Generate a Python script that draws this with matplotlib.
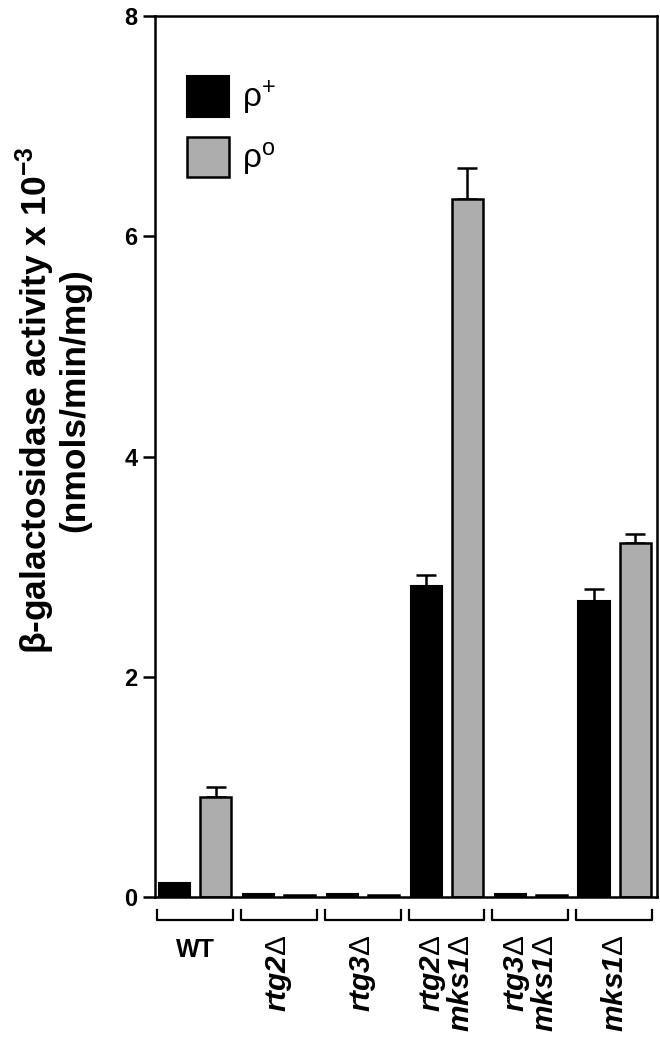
import numpy as np
import matplotlib
matplotlib.use('Agg')
import matplotlib.pyplot as plt
import matplotlib.transforms as mtransforms

plt.rcParams['font.family'] = ['Liberation Sans', 'DejaVu Sans']
plt.rcParams['mathtext.fontset'] = 'custom'
plt.rcParams['mathtext.rm'] = 'Liberation Sans'
plt.rcParams['mathtext.it'] = 'Liberation Sans:italic:bold'
plt.rcParams['mathtext.bf'] = 'Liberation Sans:bold'

## data
strains = ['WT', 'rtg2', 'rtg3', 'rtg2 mks1', 'rtg3 mks1', 'mks1']
rho_plus = [0.13, 0.025, 0.025, 2.82, 0.025, 2.69]
rho_plus_err = [0.0, 0.0, 0.0, 0.10, 0.0, 0.11]
rho_zero = [0.91, 0.015, 0.015, 6.34, 0.015, 3.21]
rho_zero_err = [0.09, 0.0, 0.0, 0.28, 0.0, 0.09]
yticks = [0, 2, 4, 6, 8]

fig = plt.figure(figsize=(6.6, 10.49), dpi=100)
ax = fig.add_axes([155/660, 1-897/1049, (657-155)/660, (897-16)/1049])

x = np.arange(len(strains))
w = 0.37
off = 0.245
ax.bar(x - off, rho_plus, w, color='black', edgecolor='black', linewidth=1.5,
       label=r'ρ$^{+}$', zorder=2)
ax.bar(x + off, rho_zero, w, color='#adadad', edgecolor='black', linewidth=1.8,
       label=r'ρ$^{\mathrm{o}}$', zorder=2)

ep = np.array(rho_plus_err)
ez = np.array(rho_zero_err)
mp = ep > 0
mz = ez > 0
ax.errorbar((x - off)[mp], np.array(rho_plus)[mp], yerr=[np.zeros(mp.sum()), ep[mp]],
            fmt='none', ecolor='black', elinewidth=1.8, capsize=7.5, capthick=1.8, zorder=1)
ax.errorbar((x + off)[mz], np.array(rho_zero)[mz], yerr=[np.zeros(mz.sum()), ez[mz]],
            fmt='none', ecolor='black', elinewidth=1.8, capsize=7.5, capthick=1.8, zorder=1)

ax.set_xlim(-0.477, 5.506)
ax.set_ylim(0, 8)
ax.set_yticks(yticks)
ax.set_yticklabels([str(t) for t in yticks], fontsize=17, fontweight='bold')
ax.tick_params(axis='y', length=8.6, width=1.8, pad=4)
ax.set_xticks([])
for s in ax.spines.values():
    s.set_linewidth(1.8)

# brackets and strain labels under the axis
trans = mtransforms.blended_transform_factory(ax.transData, ax.transAxes)
for i, name in enumerate(strains):
    ax.plot([i - 0.455, i - 0.455, i + 0.45, i + 0.45], [-0.0148, -0.0261, -0.0261, -0.0148],
            color='black', lw=1.6, transform=trans, clip_on=False)
    if name == 'WT':
        ax.text(i, -0.060, name, transform=trans, ha='center', va='center',
                fontsize=18, fontweight='bold')
    else:
        lbl = '\n'.join(p + r'$\Delta$' for p in name.split())
        ax.text(i, -0.043, lbl, transform=trans, ha='center', va='top', rotation=90,
                fontsize=21.5, fontweight='bold', fontstyle='italic',
                multialignment='right', linespacing=0.95)

fig.text(52/660, 1-400/1049, 'β-galactosidase activity x 10$^{\\mathbf{-3}}$\n(nmols/min/mg)',
         rotation=90, ha='center', va='center', multialignment='center',
         fontsize=25.5, fontweight='bold', linespacing=1.05)

ax.legend(loc='upper left', bbox_to_anchor=(0.064, 1-0.068), frameon=False, fontsize=24,
          handlelength=1.26, handleheight=1.5, labelspacing=0.59, handletextpad=0.4,
          borderpad=0, borderaxespad=0)

fig.savefig('out.png', dpi=100)
